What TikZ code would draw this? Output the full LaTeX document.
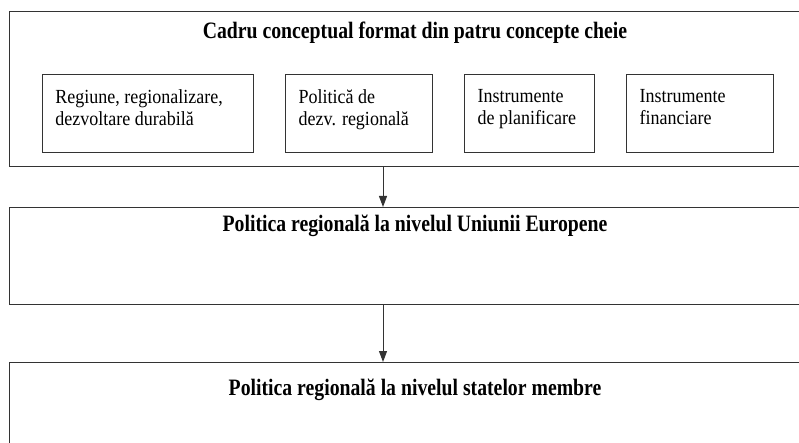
\documentclass[tikz,border=0pt]{standalone}
\usepackage{fontspec}
\setmainfont{Liberation Serif}
\newfontfamily\headfont{Liberation Serif}[FakeStretch=0.84]
\newfontfamily\boxfont{Liberation Serif}[FakeStretch=0.9]
\usepackage{tikz}
\usetikzlibrary{arrows.meta, positioning}
\definecolor{linegray}{HTML}{333333}

\begin{document}
\begin{tikzpicture}[
    x=1pt, y=-1pt,
    frame/.style={draw=linegray, line width=1.3pt, minimum width=812pt, anchor=north west, inner sep=0pt},
    concept/.style={draw=linegray, line width=1pt, minimum height=78pt, anchor=north west, inner sep=0pt},
    conceptlbl/.style={anchor=north west, align=left, inner sep=0pt, font=\boxfont\fontsize{20}{22}\selectfont},
    heading/.style={anchor=base, inner sep=0pt, font=\headfont\bfseries\fontsize{23.5}{26}\selectfont},
    arrow/.style={-{Triangle[length=11pt, width=8pt]}, draw=linegray, line width=1pt}
]
\useasboundingbox (0,0) rectangle (799,443);
\clip (0,0) rectangle (799,443);

% Outer frames
\node[frame, minimum height=155pt] (cadru) at (9,11) {};
\node[frame, minimum height=97pt] (ue) at (9,207) {};
\node[frame, minimum height=130pt] (state) at (9,362) {};

% Headings
\node[heading] (cadrulbl) at (415,39) {Cadru conceptual format din patru concepte cheie};
\node[heading] (uelbl) at (415,231.5) {Politica regională la nivelul Uniunii Europene};
\node[heading] (statelbl) at (415,395) {Politica regională la nivelul statelor membre};

% The four key concepts
\foreach \i/\xa/\w/\txt in {1/41.7/211/{Regiune, regionalizare,\\dezvoltare durabilă},
                            2/285/147/{Politică de\\dezv. regională},
                            3/464/130/{Instrumente\\de planificare},
                            4/626/147/{Instrumente\\financiare}} {
    \node[concept, minimum width=\w pt] (c\i) at (\xa,74) {};
    \node[conceptlbl] (c\i lbl) at ([xshift=13.5pt, yshift=-15pt]c\i.north west) {\txt};
}

% Arrows between levels
\coordinate (axis) at (383,0);
\draw[arrow] (cadru.south -| axis) -- (ue.north -| axis);
\draw[arrow] (ue.south -| axis) -- (state.north -| axis);

\end{tikzpicture}
\end{document}
